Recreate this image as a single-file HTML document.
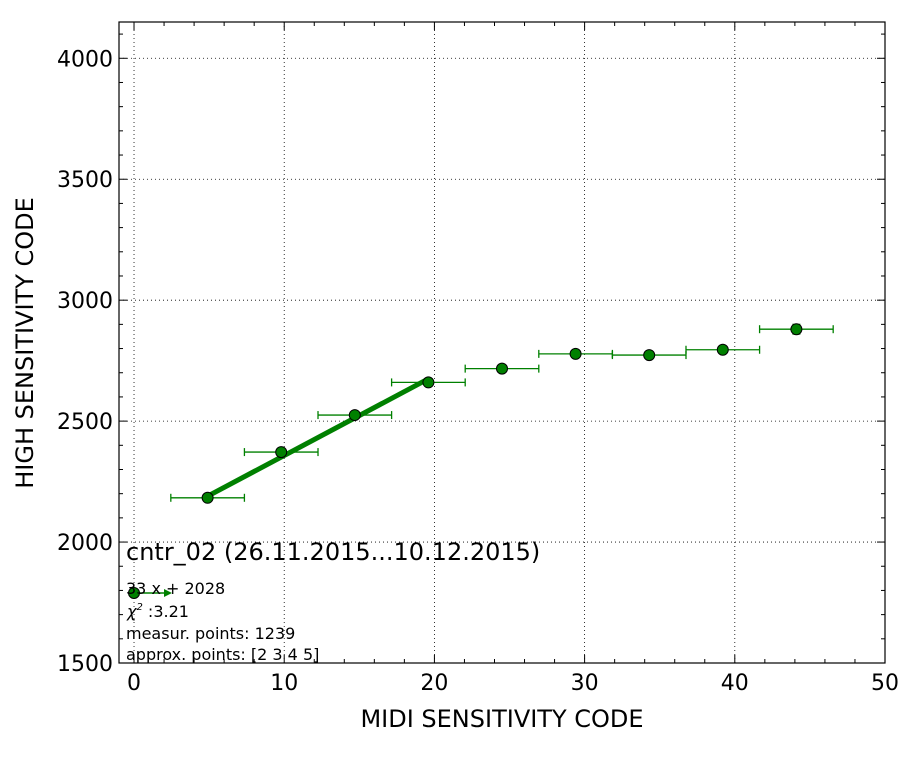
<!DOCTYPE html>
<html><head><meta charset="utf-8"><style>body{margin:0;background:#fff}svg text{font-family:"DejaVu Sans","Liberation Sans",sans-serif}</style></head>
<body>
<svg id="c" width="912" height="762" xmlns="http://www.w3.org/2000/svg"></svg>
<script>
const xs=[4.9,9.8,14.7,19.6,24.5,29.4,34.3,39.2,44.1];
const ys=[2183,2372,2525,2660,2717,2778,2773,2795,2880];
const xerr=[2.45,2.45,2.45,2.45,2.45,2.45,2.45,2.45,2.45];
const yerr=[10,10,10,10,12,12,12,12,20];
const fitSlope=33, fitIntercept=2028;
const fitRange=[4.9,19.6];
const xTicks=[0,10,20,30,40,50];
const yTicks=[1500,2000,2500,3000,3500,4000];
const L=119,R=885,T=22,B=663,X0=-1,X1=50,Y0=1500,Y1=4150;
const sx=v=>L+(v-X0)/(X1-X0)*(R-L), sy=v=>B-(v-Y0)/(Y1-Y0)*(B-T);
const svg=document.getElementById('c');const NS='http://www.w3.org/2000/svg';
function mk(t,a,p){const e=document.createElementNS(NS,t);for(const k in a)e.setAttribute(k,a[k]);(p||svg).appendChild(e);return e;}
const g=mk('g',{});


xTicks.forEach(v=>{if(v>X0&&v<X1)mk('line',{x1:sx(v),x2:sx(v),y1:T,y2:B,stroke:'#000','stroke-width':0.8,'stroke-dasharray':'1,3'},g);});
yTicks.forEach(v=>mk('line',{x1:L,x2:R,y1:sy(v),y2:sy(v),stroke:'#000','stroke-width':0.8,'stroke-dasharray':'1,3'},g));
const ax=mk('g',{});


for(let v=0;v<=50;v+=2){const len=v%10==0?8:4;mk('line',{x1:sx(v),x2:sx(v),y1:B,y2:B-len,stroke:'#000'},ax);mk('line',{x1:sx(v),x2:sx(v),y1:T,y2:T+len,stroke:'#000'},ax);}
for(let v=1500;v<=4100;v+=100){const len=v%500==0?8:4;mk('line',{x1:L,x2:L+len,y1:sy(v),y2:sy(v),stroke:'#000'},ax);mk('line',{x1:R,x2:R-len,y1:sy(v),y2:sy(v),stroke:'#000'},ax);}
xTicks.forEach(v=>{const t=mk('text',{x:sx(v),y:B+27,'font-size':22,'text-anchor':'middle'},ax);t.textContent=v;

});
yTicks.forEach(v=>{const t=mk('text',{x:L-6,y:sy(v)+8,'font-size':22,'text-anchor':'end'},ax);t.textContent=v;

});
const fit=mk('line',{x1:sx(fitRange[0]),y1:sy(fitSlope*fitRange[0]+fitIntercept),x2:sx(fitRange[1]),y2:sy(fitSlope*fitRange[1]+fitIntercept),stroke:'#008000','stroke-width':5});


xs.forEach((x,i)=>{const y=ys[i];const pg=mk('g',{});


const c='#008000';
mk('line',{x1:sx(x-xerr[i]),x2:sx(x+xerr[i]),y1:sy(y),y2:sy(y),stroke:c,'stroke-width':1.3},pg);
[x-xerr[i],x+xerr[i]].forEach(e=>mk('line',{x1:sx(e),x2:sx(e),y1:sy(y)-4,y2:sy(y)+4,stroke:c,'stroke-width':1.3},pg));
mk('line',{x1:sx(x),x2:sx(x),y1:sy(y-yerr[i]),y2:sy(y+yerr[i]),stroke:c,'stroke-width':1.3},pg);
[y-yerr[i],y+yerr[i]].forEach(e=>mk('line',{x1:sx(x)-4,x2:sx(x)+4,y1:sy(e),y2:sy(e),stroke:c,'stroke-width':1.3},pg));
mk('circle',{cx:sx(x),cy:sy(y),r:5.5,fill:c,stroke:'#000','stroke-width':1},pg);});
mk('rect',{x:L,y:T,width:R-L,height:B-T,fill:'none',stroke:'#000','stroke-width':1.2});
</script>
<svg style="position:absolute;left:0;top:0" width="912" height="762">
<g>
<line x1="134" y1="593" x2="166" y2="593" stroke="#008000" stroke-width="1.5"/>
<polygon points="172,593 164,589 164,597" fill="#008000"/>
<circle cx="134" cy="593" r="5.5" fill="#008000" stroke="#000"/>
<text x="126" y="594" font-size="16" font-family="DejaVu Sans,sans-serif">33 x + 2028</text>
<text x="127" y="617" font-size="16" font-family="DejaVu Serif,serif" font-style="italic">χ<tspan font-size="10" dy="-7">2</tspan><tspan dy="7" font-style="normal" font-family="DejaVu Sans,sans-serif"> :3.21</tspan></text>
<text x="126" y="639" font-size="16" font-family="DejaVu Sans,sans-serif">measur. points: 1239</text>
<text x="126" y="660" font-size="16" font-family="DejaVu Sans,sans-serif">approx. points: [2 3 4 5]</text>
</g>
<text x="126" y="560" font-size="24" font-family="DejaVu Sans,sans-serif">cntr_02 (26.11.2015...10.12.2015)</text>
<text x="502" y="727" font-size="24" text-anchor="middle" font-family="DejaVu Sans,sans-serif">MIDI SENSITIVITY CODE</text>
<text transform="translate(33,343) rotate(-90)" font-size="24" text-anchor="middle" font-family="DejaVu Sans,sans-serif">HIGH SENSITIVITY CODE</text>
</svg>
</body></html>
